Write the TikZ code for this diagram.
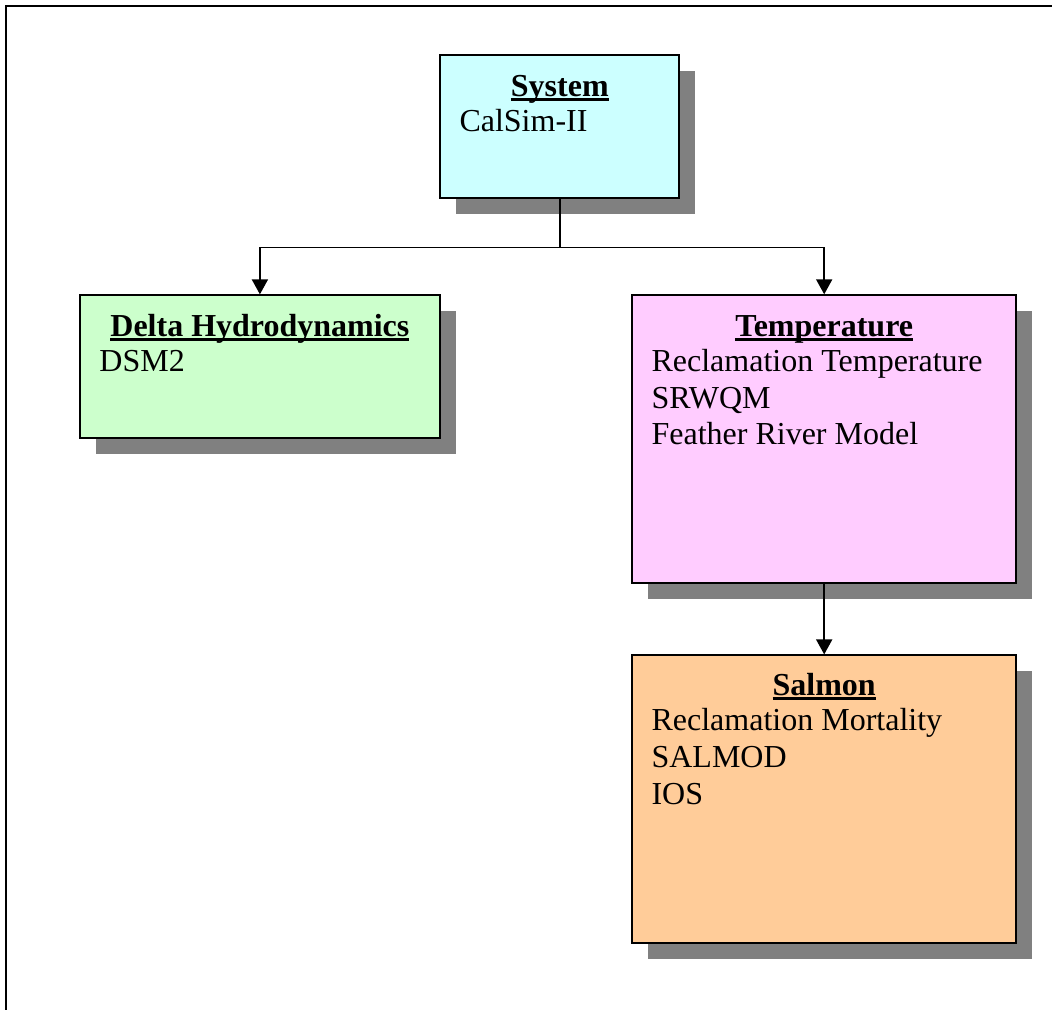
\documentclass[tikz,border=0pt]{standalone}
\usepackage{fontspec}
\setmainfont{Liberation Serif}
\usetikzlibrary{arrows.meta,shadows}

\definecolor{systemcyan}{HTML}{CCFFFF}
\definecolor{deltagreen}{HTML}{CCFFCC}
\definecolor{temppink}{HTML}{FFCCFF}
\definecolor{salmonorange}{HTML}{FFCC99}
\definecolor{shadowgray}{HTML}{808080}

\newsavebox{\headbox}
\newcommand{\headline}[1]{\sbox{\headbox}{\bfseries #1}\rlap{\rule[-4.5bp]{\wd\headbox}{3.2bp}}\usebox{\headbox}}
\newcommand{\modellist}[1]{\parbox[t]{360bp}{\raggedright #1}}

\tikzset{
  model/.style={draw, line width=2bp, inner sep=0pt,
    drop shadow={shadow xshift=16bp, shadow yshift=-16bp, fill=shadowgray, opacity=1}},
  head/.style={anchor=base, inner sep=0pt},
  list/.style={anchor=base west, inner sep=0pt},
  link/.style={line width=1.8bp, -{Triangle[length=15bp,width=16bp]}},
}

\begin{document}
\begin{tikzpicture}[x=1bp, y=-1bp, font=\fontsize{32bp}{36.8bp}\selectfont]
            \useasboundingbox (0,0) rectangle (1052,1010);
            \clip (0,0) rectangle (1052,1010);
            \draw[line width=2bp] (6.3,6.2) rectangle (1080,1040);
            % model boxes
            \node[model, fill=systemcyan, minimum width=239bp, minimum height=142.5bp] (system) at (559.8,126.6) {};
            \node[model, fill=deltagreen, minimum width=359.2bp, minimum height=142.5bp] (delta) at (259.9,366.6) {};
            \node[model, fill=temppink, minimum width=383.7bp, minimum height=288bp] (temperature) at (824.2,439.3) {};
            \node[model, fill=salmonorange, minimum width=383.7bp, minimum height=288bp] (salmon) at (824.2,799.4) {};
            % texts
            \node[head] (systemHead) at ([yshift=-42bp]system.north) {\headline{System}};
            \node[list] (systemList) at ([xshift=20bp,yshift=-77bp]system.north west) {\modellist{CalSim-II}};
            \node[head] (deltaHead) at ([yshift=-42bp]delta.north) {\headline{Delta Hydrodynamics}};
            \node[list] (deltaList) at ([xshift=20bp,yshift=-77bp]delta.north west) {\modellist{DSM2}};
            \node[head] (temperatureHead) at ([yshift=-42bp]temperature.north) {\headline{Temperature}};
            \node[list] (temperatureList) at ([xshift=20bp,yshift=-77bp]temperature.north west) {\modellist{Reclamation Temperature\\SRWQM\\Feather River Model}};
            \node[head] (salmonHead) at ([yshift=-41bp]salmon.north) {\headline{Salmon}};
            \node[list] (salmonList) at ([xshift=20bp,yshift=-76.5bp]salmon.north west) {\modellist{Reclamation Mortality\\SALMOD\\IOS}};
            % connectors
            \coordinate (fork) at ([yshift=-48.7bp]system.south);
            \draw[line width=1.8bp] (system.south) -- (fork);
            \draw[link] (fork) -| (delta.north);
            \draw[link] (fork) -| (temperature.north);
            \draw[link] (temperature.south) -- (salmon.north);
        \end{tikzpicture}
\end{document}
